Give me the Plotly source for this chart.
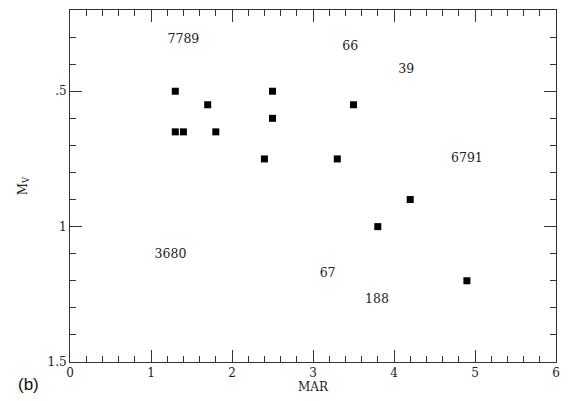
import plotly.graph_objects as go

# data points (MAR, M_V)
mar = [1.3, 1.3, 1.4, 1.7, 1.8, 2.4, 2.5, 2.5, 3.3, 3.5, 3.8, 4.2, 4.9]
mv = [0.50, 0.65, 0.65, 0.55, 0.65, 0.75, 0.50, 0.60, 0.75, 0.55, 1.00, 0.90, 1.20]

# cluster labels
lab_text = ["7789", "66", "39", "6791", "3680", "67", "188"]
lab_x = [1.40, 3.46, 4.15, 4.90, 1.24, 3.18, 3.79]
lab_y = [0.31, 0.335, 0.42, 0.75, 1.105, 1.175, 1.27]

yticks = [0.5, 1.0, 1.5]
yticktext = [".5", "1", "1.5"]

font_fam = "DejaVu Serif"

fig = go.Figure()
fig.add_trace(go.Scatter(
    x=mar, y=mv, mode="markers",
    marker=dict(symbol="square", size=7, color="black"),
    showlegend=False, hoverinfo="skip"))
fig.add_trace(go.Scatter(
    x=lab_x, y=lab_y, mode="text", text=lab_text,
    textfont=dict(family=font_fam, size=12.5, color="#222"),
    showlegend=False, hoverinfo="skip"))

axis_common = dict(
    showline=True, linecolor="#333", linewidth=1, mirror="allticks",
    ticks="inside", tickcolor="#333", tickwidth=1, ticklen=12,
    showgrid=False, zeroline=False,
    tickfont=dict(family=font_fam, size=12, color="#222"),
)

fig.update_layout(
    width=570, height=401,
    margin=dict(l=70, r=14, t=10, b=39),
    paper_bgcolor="white", plot_bgcolor="white",
    xaxis=dict(range=[0, 6], dtick=1, tick0=0,
               minor=dict(dtick=0.2, ticks="inside", ticklen=6, tickcolor="#333"),
               title=dict(text="MAR", font=dict(family=font_fam, size=12, color="#222"), standoff=0),
               **axis_common),
    yaxis=dict(range=[1.5, 0.2], tickvals=yticks, ticktext=yticktext,
               minor=dict(dtick=0.1, tick0=0, ticks="inside", ticklen=6, tickcolor="#333"),
               title=dict(text="M<sub>V</sub>", font=dict(family=font_fam, size=12, color="#222"), standoff=17),
               **axis_common),
    annotations=[dict(text="(b)", xref="paper", yref="paper", x=-0.111, y=-0.065,
                      xanchor="left", yanchor="middle", showarrow=False,
                      font=dict(family="Liberation Sans", size=17, color="#111"))],
)

fig.write_html("out.html", config={"displayModeBar": False},
               post_script="document.body.style.margin='0';document.body.style.overflow='hidden';")
